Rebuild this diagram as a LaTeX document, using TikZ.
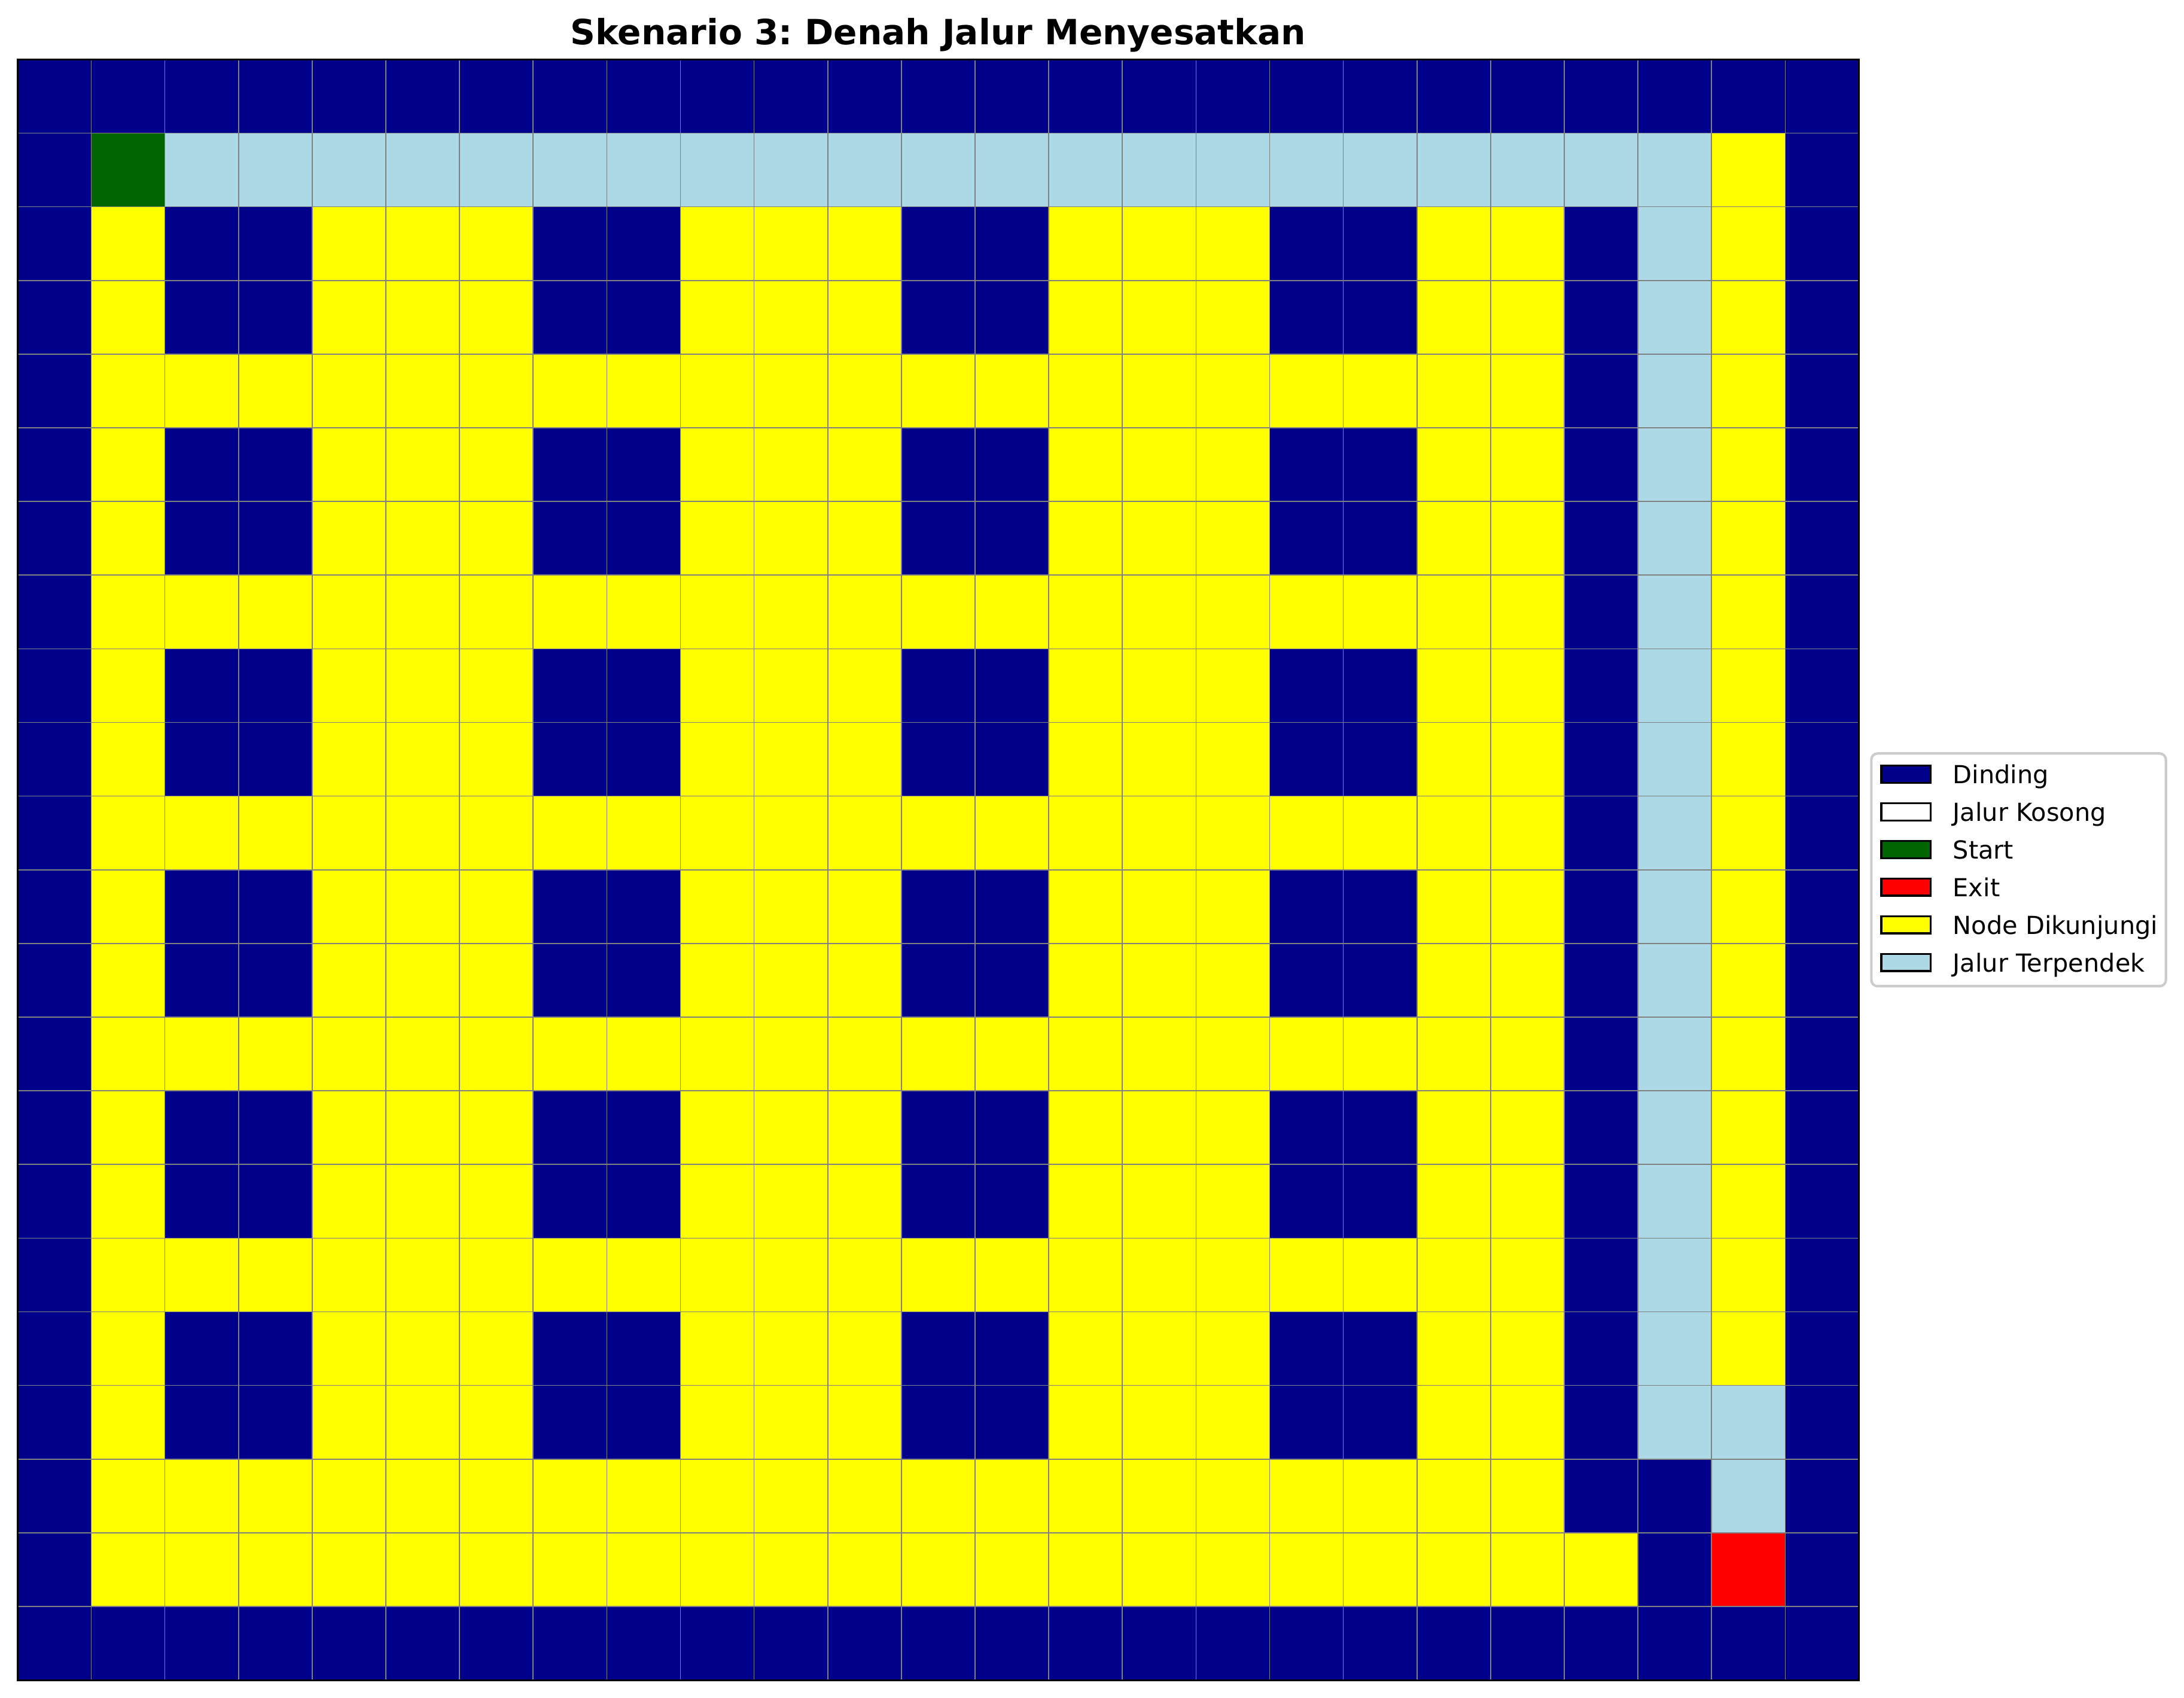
\documentclass[tikz,border=0pt]{standalone}
\usepackage{fontspec}
\setmainfont{DejaVu Sans}
\usepackage{xcolor}
\definecolor{dinding}{HTML}{00008B}
\definecolor{kosong}{HTML}{FFFFFF}
\definecolor{mulai}{HTML}{006400}
\definecolor{keluar}{HTML}{FF0000}
\definecolor{dikunjungi}{HTML}{FFFF00}
\definecolor{terpendek}{HTML}{ADD8E6}
\usepackage{tikz}
\frenchspacing

\begin{document}
\begin{tikzpicture}[
    x=1.0425cm, y=-1.0425cm,
    every node/.style={font=\fontsize{10}{12}\selectfont, inner sep=0pt},
    sel/.style={fill=#1},
    garis/.style={draw=gray, line width=0.4pt},
    patch/.style={draw=black, line width=0.8pt, minimum width=0.70cm, minimum height=0.243cm},
  ]
    \useasboundingbox (-0.238, -0.8065) rectangle (29.414, 22.242);
    \def\K{25}                             % jumlah kolom
    \def\B{22}                             % jumlah baris

    % dasar: semua sel dikunjungi
    \fill[sel=dikunjungi] (0, 0) rectangle (\K, \B);

    % dinding luar
    \fill[sel=dinding] (0, 0) rectangle (\K, 1);
    \fill[sel=dinding] (0, \B-1) rectangle (\K, \B);
    \fill[sel=dinding] (0, 0) rectangle (1, \B);
    \fill[sel=dinding] (\K-1, 0) rectangle (\K, \B);

    % blok dinding 2x2
    \foreach \c in {2, 7, 12, 17}
      \foreach \r in {2, 5, 8, 11, 14, 17}
        \fill[sel=dinding] (\c, \r) rectangle ++(2, 2);

    % dinding pengecoh di kanan
    \fill[sel=dinding] (21, 2) rectangle (22, 20);
    \fill[sel=dinding] (22, 19) rectangle (23, 21);

    % jalur terpendek
    \fill[sel=terpendek] (2, 1) rectangle (23, 2);
    \fill[sel=terpendek] (22, 2) rectangle (23, 19);
    \fill[sel=terpendek] (23, 18) rectangle (24, 20);

    % start dan exit
    \fill[sel=mulai] (1, 1) rectangle (2, 2);
    \fill[sel=keluar] (23, 20) rectangle (24, 21);

    % garis kisi dan bingkai
    \foreach \c in {1, ..., 24}
      \draw[garis] (\c, 0) -- (\c, \B);
    \foreach \r in {1, ..., 21}
      \draw[garis] (0, \r) -- (\K, \r);
    \draw[line width=0.8pt] (0, 0) rectangle (\K, \B);

    % judul
    \node[anchor=base, font=\fontsize{14}{17}\selectfont\bfseries] (judul) at ({\K/2}, -0.2055)
      {Skenario 3: Denah Jalur Menyesatkan};

    % kotak legenda
    \draw[draw=black!20, line width=1pt, fill=white, rounded corners=2.5pt]
      (25.169, 9.421) rectangle (29.168, 12.580);

    % entri legenda
    \foreach \warna/\teks [count=\i, evaluate=\i as \y using 9.703+(\i-1)*0.5108] in
      {dinding/Dinding, kosong/Jalur Kosong, mulai/Start, keluar/Exit,
       dikunjungi/Node Dikunjungi, terpendek/Jalur Terpendek} {
      \node[patch, fill=\warna] (warna-\i) at (25.64, \y) {};
      \node[anchor=base west] (teks-\i) at (26.27, \y+0.126) {\teks};
    }
  \end{tikzpicture}
\end{document}
